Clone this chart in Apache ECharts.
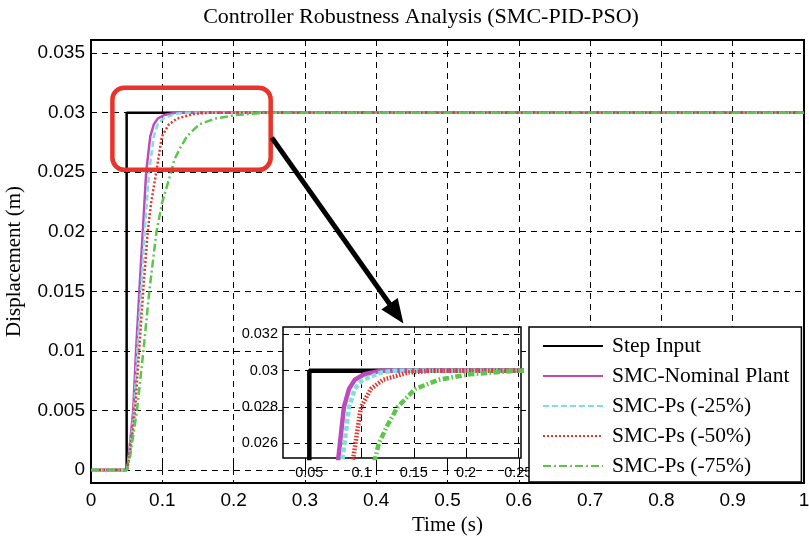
<!DOCTYPE html>
<html>
<head>
<meta charset="utf-8">
<script src="https://cdn.jsdelivr.net/npm/echarts@6/dist/echarts.min.js"></script>
<style>
  html, body { margin: 0; padding: 0; background: #fff; }
  #chart { width: 809px; height: 541px; }
</style>
</head>
<body>
<div id="chart"></div>
<script>
// series names
var names = ['Step Input', 'SMC-Nominal Plant', 'SMC-Ps (-25%)', 'SMC-Ps (-50%)', 'SMC-Ps (-75%)'];

// [time, displacement]
var stepInput = [[0, 0], [0.05, 0], [0.05, 0.03], [1, 0.03]];
var nominal = [[0, 0], [0.0505, 0], [0.053, 0.0012], [0.056, 0.003], [0.0592, 0.005], [0.0632, 0.01],
  [0.0678, 0.015], [0.0726, 0.02], [0.0774, 0.025], [0.0831, 0.028], [0.088, 0.029], [0.0935, 0.0295],
  [0.1026, 0.0298], [0.119, 0.03], [1, 0.03]];
var ps25 = [[0, 0], [0.0505, 0], [0.0535, 0.0012], [0.057, 0.003], [0.0605, 0.005], [0.065, 0.01],
  [0.0702, 0.015], [0.0752, 0.02], [0.0815, 0.025], [0.088, 0.028], [0.0935, 0.029], [0.101, 0.0295],
  [0.119, 0.0299], [0.1315, 0.03], [1, 0.03]];
var ps50 = [[0, 0], [0.0505, 0], [0.054, 0.0012], [0.058, 0.003], [0.0618, 0.005], [0.0675, 0.01],
  [0.0732, 0.015], [0.0795, 0.02], [0.0845, 0.0225], [0.0915, 0.025], [0.0994, 0.028], [0.109, 0.029],
  [0.1205, 0.0295], [0.1448, 0.0299], [0.1675, 0.03], [1, 0.03]];
var ps75 = [[0, 0], [0.0505, 0], [0.055, 0.0012], [0.0595, 0.003], [0.0645, 0.005], [0.0735, 0.01],
  [0.0818, 0.015], [0.0918, 0.02], [0.1, 0.0225], [0.1123, 0.025], [0.1165, 0.026], [0.1248, 0.027],
  [0.1345, 0.028], [0.1513, 0.029], [0.174, 0.0295], [0.2033, 0.0298], [0.248, 0.03], [1, 0.03]];

// tick labels
var mainYTicks = [0, 0.005, 0.01, 0.015, 0.02, 0.025, 0.03, 0.035];
var insetXTicks = [0.05, 0.1, 0.15, 0.2, 0.25];
var insetYTicks = [0.026, 0.028, 0.03, 0.032];

// zoom annotation (data coords of main plot)
var zoomBox = [[0.03, 0.0321], [0.252, 0.0252]];
var arrowFrom = [0.2536, 0.0279];
var arrowTo = [0.4382, 0.0123];

var colors = ['#000000', '#BC4CBC', '#80DEDE', '#E8342B', '#5CC64A'];
var dashes = ['solid', 'solid', [6, 3], [2, 2], [8, 3, 2, 3]];
var allData = [stepInput, nominal, ps25, ps50, ps75];

var serifFont = 'Liberation Serif';
var sansFont = 'Liberation Sans';

var chart = echarts.init(document.getElementById('chart'));

var series = [];
allData.forEach(function (d, i) {
  series.push({
    name: names[i], type: 'line', xAxisIndex: 0, yAxisIndex: 0, data: d,
    symbol: 'none', animation: false, z: 2 + i,
    lineStyle: { color: colors[i], width: 2.5, type: dashes[i] },
    itemStyle: { color: colors[i] }
  });
});
allData.forEach(function (d, i) {
  series.push({
    name: names[i], type: 'line', xAxisIndex: 1, yAxisIndex: 1, data: d,
    symbol: 'none', animation: false, clip: true, z: 12 + i,
    lineStyle: { color: colors[i], width: 4.5, type: dashes[i] === 'solid' ? 'solid' : dashes[i].map(function (v) { return v * 0.8; }) },
    itemStyle: { color: colors[i] }
  });
});

var dashGrid = { show: true, lineStyle: { color: '#000', type: [6, 5], width: 1 } };

var option = {
  animation: false,
  backgroundColor: '#fff',
  title: {
    text: 'Controller Robustness Analysis (SMC-PID-PSO)',
    left: 416, top: 1, textAlign: 'center',
    textStyle: { fontFamily: serifFont, fontSize: 22, fontWeight: 'normal', color: '#000' }
  },
  legend: {
    data: names, orient: 'vertical', left: 529, top: 327,
    backgroundColor: '#fff', borderColor: '#000', borderWidth: 1.5,
    padding: [8, 12, 5, 13], itemWidth: 60, itemHeight: 14, itemGap: 8,
    itemStyle: { opacity: 0 },
    textStyle: { fontFamily: serifFont, fontSize: 21.5, color: '#000', padding: [0, 0, 0, 4] },
    z: 30
  },
  grid: [
    { left: 91, right: 5, top: 40, bottom: 58, outerBoundsMode: 'none', containLabel: false,
      show: true, borderColor: '#000', borderWidth: 2, backgroundColor: '#fff' },
    { left: 283, width: 238, top: 327, height: 131, outerBoundsMode: 'none', containLabel: false,
      show: true, borderColor: '#000', borderWidth: 1.5, backgroundColor: '#fff', z: 10 }
  ],
  xAxis: [
    {
      type: 'value', gridIndex: 0, min: 0, max: 1, interval: 0.1,
      name: 'Time (s)', nameLocation: 'middle', nameGap: 28,
      nameTextStyle: { fontFamily: serifFont, fontSize: 21, color: '#000' },
      axisLine: { show: false },
      axisTick: { inside: true, length: 6, lineStyle: { color: '#000', width: 1 } },
      axisLabel: { fontFamily: sansFont, fontSize: 19, color: '#000', margin: 8 },
      splitLine: dashGrid
    },
    {
      type: 'value', gridIndex: 1, min: 0.0248, max: 0.2526,
      axisLine: { show: false },
      axisTick: { inside: true, length: 4, customValues: insetXTicks, lineStyle: { color: '#000' } },
      axisLabel: { fontFamily: sansFont, fontSize: 14.5, color: '#000', margin: 7, customValues: insetXTicks },
      splitLine: dashGrid, z: 10
    }
  ],
  yAxis: [
    {
      type: 'value', gridIndex: 0, min: -0.0011, max: 0.0361,
      name: 'Displacement (m)', nameLocation: 'middle', nameGap: 66,
      nameTextStyle: { fontFamily: serifFont, fontSize: 21, color: '#000' },
      axisLine: { show: false },
      axisTick: { inside: true, length: 6, customValues: mainYTicks, lineStyle: { color: '#000' } },
      axisLabel: { fontFamily: sansFont, fontSize: 19, color: '#000', margin: 6, customValues: mainYTicks },
      splitLine: dashGrid
    },
    {
      type: 'value', gridIndex: 1, min: 0.0252, max: 0.0324,
      axisLine: { show: false },
      axisTick: { inside: true, length: 4, customValues: insetYTicks, lineStyle: { color: '#000' } },
      axisLabel: { fontFamily: sansFont, fontSize: 14.5, color: '#000', margin: 5, customValues: insetYTicks },
      splitLine: dashGrid, z: 10
    }
  ],
  series: series
};

option && chart.setOption(option);

// zoom box and arrow, placed from data coordinates
var p1 = chart.convertToPixel({ gridIndex: 0 }, zoomBox[0]);
var p2 = chart.convertToPixel({ gridIndex: 0 }, zoomBox[1]);
var a1 = chart.convertToPixel({ gridIndex: 0 }, arrowFrom);
var a2 = chart.convertToPixel({ gridIndex: 0 }, arrowTo);
var dx = a2[0] - a1[0], dy = a2[1] - a1[1];
var len = Math.sqrt(dx * dx + dy * dy);
var ux = dx / len, uy = dy / len;
var headLen = 24, headW = 10;
var base = [a2[0] - ux * headLen, a2[1] - uy * headLen];

chart.setOption({
  graphic: [
    {
      type: 'rect', z: 50,
      shape: { x: p1[0], y: p1[1], width: p2[0] - p1[0], height: p2[1] - p1[1], r: 12 },
      style: { fill: 'none', stroke: '#E8342B', lineWidth: 4.5 }
    },
    {
      type: 'line', z: 50,
      shape: { x1: a1[0], y1: a1[1], x2: base[0] + ux * 2, y2: base[1] + uy * 2 },
      style: { stroke: '#000', lineWidth: 5 }
    },
    {
      type: 'polygon', z: 50,
      shape: { points: [a2, [base[0] - uy * headW, base[1] + ux * headW], [base[0] + uy * headW, base[1] - ux * headW]] },
      style: { fill: '#000' }
    }
  ]
});
</script>
</body>
</html>
